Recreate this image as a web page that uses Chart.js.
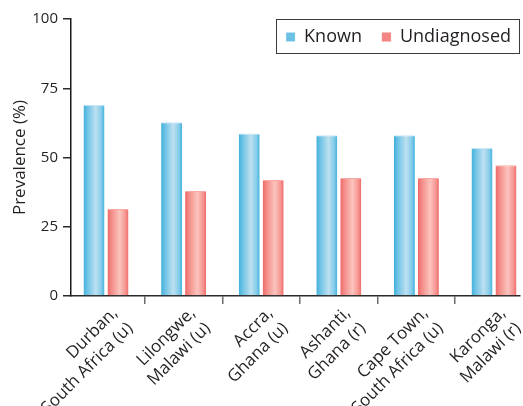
<!DOCTYPE html>
<html>
<head>
<meta charset="utf-8">
<script src="https://cdn.jsdelivr.net/npm/chart.js@4.4.1/dist/chart.umd.min.js"></script>
<style>
  html, body { margin: 0; padding: 0; background: #ffffff; }
  #wrap { width: 523px; height: 406px; }
</style>
</head>
<body>
<div id="wrap"><canvas id="c" width="523" height="406"></canvas></div>
<script>
// Sites (two-line labels) and prevalence of hypertension awareness, in %
const categories = [
  ['Durban,', 'South Africa (u)'],
  ['Lilongwe,', 'Malawi (u)'],
  ['Accra,', 'Ghana (u)'],
  ['Ashanti,', 'Ghana (r)'],
  ['Cape Town,', 'South Africa (u)'],
  ['Karonga,', 'Malawi (r)']
];
const seriesNames = ['Known', 'Undiagnosed'];
const knownValues = [69.0, 62.7, 58.7, 58.0, 58.0, 53.4];
const undiagnosedValues = [31.4, 37.9, 41.9, 42.6, 42.6, 47.2];
const yTicks = [0, 25, 50, 75, 100];

const FONT = "'Open Sans', 'DejaVu Sans', sans-serif";
const TEXT = '#231f20';

// Horizontal shading of the bars (edge -> light centre -> edge)
const barShades = [
  [[0, '#40b0db'], [0.18, '#6cc2e5'], [0.58, '#bde0f0'], [0.85, '#84cce9'], [1, '#42b2dc']],
  [[0, '#ee6867'], [0.18, '#f38a86'], [0.58, '#fcc4be'], [0.85, '#f69792'], [1, '#ee6b6a']]
];
const baseColors = ['#6cc2e5', '#f38684'];
const topEdge = ['#c9e8f5', '#f7aaa5'];

const barShading = {
  id: 'barShading',
  afterLayout(chart) {
    // legend sits inside a framed box at the top right of the plot
    const lg = chart.legend, ca = chart.chartArea;
    if (!lg) return;
    lg.left = ca.left;
    lg.right = ca.right + 11;
    lg.top = ca.top - 11;
    lg.bottom = ca.top + 40;
  },
  beforeDatasetsDraw(chart) {
    const ctx = chart.ctx;
    chart.data.datasets.forEach((ds, di) => {
      const meta = chart.getDatasetMeta(di);
      meta.data.forEach(el => {
        const p = el.getProps(['x', 'width'], true);
        const g = ctx.createLinearGradient(p.x - p.width / 2, 0, p.x + p.width / 2, 0);
        barShades[di].forEach(([o, c]) => g.addColorStop(o, c));
        el.options = Object.assign({}, el.options, { backgroundColor: g });
      });
    });
  },
  afterDraw(chart) {
    const lg = chart.legend, ca = chart.chartArea, ctx = chart.ctx;
    if (!lg || !lg.legendHitBoxes || !lg.legendHitBoxes.length) return;
    const first = lg.legendHitBoxes[0];
    const x0 = Math.round(first.left - 10) + 0.5;
    const y0 = Math.round(ca.top) + 0.5;
    const x1 = Math.round(ca.right) - 0.5;
    const y1 = Math.round(ca.top + 34) + 0.5;
    ctx.save();
    ctx.strokeStyle = '#3a3a3a';
    ctx.lineWidth = 1;
    ctx.strokeRect(x0, y0, x1 - x0, y1 - y0);
    ctx.restore();
  }
};

const toPoints = vals => vals.map((v, i) => ({ x: i, y: v }));

new Chart(document.getElementById('c'), {
  type: 'bar',
  data: {
    datasets: [
      {
        label: seriesNames[0],
        data: toPoints(knownValues),
        backgroundColor: baseColors[0],
        borderColor: topEdge[0],
        borderWidth: { top: 1, left: 0, right: 0, bottom: 0 },
        borderSkipped: 'bottom'
      },
      {
        label: seriesNames[1],
        data: toPoints(undiagnosedValues),
        backgroundColor: baseColors[1],
        borderColor: topEdge[1],
        borderWidth: { top: 1, left: 0, right: 0, bottom: 0 },
        borderSkipped: 'bottom'
      }
    ]
  },
  options: {
    responsive: false,
    devicePixelRatio: 1,
    animation: false,
    events: [],
    categoryPercentage: 0.618,
    barPercentage: 0.875,
    layout: { padding: { top: 18, right: 3, bottom: 0, left: 0 } },
    plugins: {
      tooltip: { enabled: false },
      legend: {
        position: 'top',
        align: 'end',
        maxHeight: 1,
        labels: {
          boxWidth: 9,
          boxHeight: 9,
          padding: 20,
          color: TEXT,
          font: { family: FONT, size: 18 }
        }
      }
    },
    scales: {
      x: {
        type: 'linear',
        bounds: 'data',
        min: -0.451,
        max: 5.335,
        offset: false,
        afterBuildTicks: s => { s.ticks = categories.map((_, i) => ({ value: i })); },
        afterFit: s => { s.height = 110; s.paddingLeft = 0; s.paddingRight = 0; },
        ticks: {
          autoSkip: false,
          minRotation: 45,
          maxRotation: 45,
          padding: -1,
          labelOffset: 9,
          color: TEXT,
          font: { family: FONT, size: 17, lineHeight: 1.25 },
          callback: v => categories[v] || ''
        },
        grid: {
          display: true,
          drawOnChartArea: false,
          drawTicks: true,
          tickLength: 8,
          color: '#6d6d6d',
          lineWidth: 1.5
        },
        border: { display: true, color: '#2a2a2a', width: 1.5 }
      },
      y: {
        min: 0,
        max: 100,
        afterBuildTicks: s => { s.ticks = yTicks.map(v => ({ value: v })); },
        afterFit: s => { s.width = 71; },
        ticks: {
          padding: 5,
          color: TEXT,
          font: { family: FONT, size: 15 }
        },
        grid: {
          display: true,
          drawOnChartArea: false,
          drawTicks: true,
          tickLength: 8,
          color: '#2a2a2a',
          lineWidth: 1.5
        },
        border: { display: true, color: '#1a1a1a', width: 1.5 },
        title: {
          display: true,
          text: 'Prevalence (%)',
          color: TEXT,
          font: { family: FONT, size: 17 },
          padding: { top: 10, bottom: 0 }
        }
      }
    }
  },
  plugins: [barShading]
});
</script>
</body>
</html>
